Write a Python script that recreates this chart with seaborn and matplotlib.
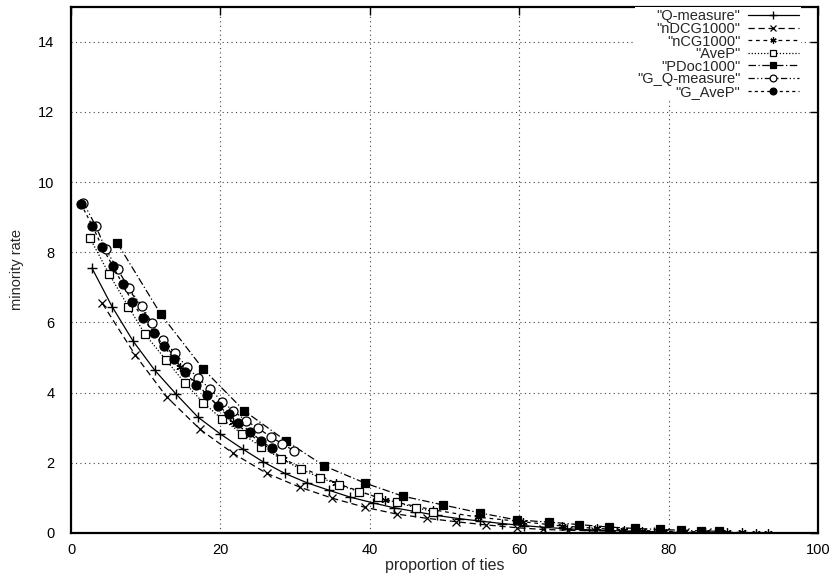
import matplotlib
matplotlib.use("Agg")
import matplotlib.pyplot as plt
import seaborn as sns

# ---- data ----
q_x = [2.8, 5.5, 8.3, 11.2, 14.1, 17.0, 20.0, 23.0, 25.7, 28.6, 31.6, 34.5, 37.4, 40.4, 43.2, 46.1,
       49.0, 51.9, 54.8, 57.7, 60.6, 63.5, 66.4, 69.3, 72.2, 75.1, 78.0]
q_y = [7.55, 6.45, 5.47, 4.64, 3.95, 3.30, 2.82, 2.39, 2.03, 1.70, 1.43, 1.22, 1.02, 0.86, 0.72, 0.61,
       0.50, 0.41, 0.34, 0.27, 0.21, 0.16, 0.12, 0.09, 0.07, 0.05, 0.04]

ndcg_x = [4.2, 8.6, 12.8, 17.3, 21.7, 26.2, 30.7, 35.0, 39.4, 43.6, 47.6, 51.6, 55.6, 59.7, 63.2,
          66.5, 70.1, 73.5, 76.4, 79.5, 82.2, 85.1]
ndcg_y = [6.54, 5.07, 3.88, 2.95, 2.27, 1.70, 1.30, 0.99, 0.73, 0.54, 0.42, 0.32, 0.23, 0.15, 0.10,
          0.08, 0.06, 0.05, 0.04, 0.03, 0.02, 0.02]

ncg_x = [7.6, 14.6, 21.7, 28.4, 35.5, 42.0, 48.5, 54.5, 60.5, 65.7, 70.4, 74.0, 76.5, 79.3, 81.7,
         84.9, 87.8, 89.8, 91.7, 93.3]
ncg_y = [7.0, 4.74, 3.17, 2.11, 1.42, 0.94, 0.66, 0.45, 0.32, 0.20, 0.13, 0.09, 0.07, 0.05, 0.04,
         0.03, 0.02, 0.02, 0.01, 0.01]

avep_x = [2.54, 5.09, 7.67, 9.91, 12.72, 15.26, 17.71, 20.25, 22.89, 25.5, 28.1, 30.8, 33.3, 35.9,
          38.5, 41.1, 43.6, 46.2, 48.5]
avep_y = [8.40, 7.38, 6.45, 5.66, 4.93, 4.27, 3.71, 3.24, 2.83, 2.45, 2.12, 1.82, 1.58, 1.37,
          1.18, 1.02, 0.87, 0.72, 0.61]

pdoc_x = [6.2, 12.0, 17.7, 23.2, 28.8, 33.9, 39.4, 44.4, 49.8, 54.8, 59.7, 64.0, 68.0, 72.0, 75.5,
          78.8, 81.6, 84.3, 86.7]
pdoc_y = [8.26, 6.24, 4.67, 3.48, 2.62, 1.91, 1.42, 1.05, 0.80, 0.57, 0.37, 0.31, 0.24, 0.17, 0.13,
          0.10, 0.08, 0.06, 0.05]

gq_x = [1.65, 3.31, 4.65, 6.25, 7.76, 9.46, 10.87, 12.36, 13.92, 15.49, 17.04, 18.67, 20.25, 21.73,
        23.43, 25.08, 26.73, 28.28, 29.89]
gq_y = [9.41, 8.75, 8.08, 7.51, 6.97, 6.47, 5.97, 5.50, 5.12, 4.74, 4.41, 4.09, 3.74, 3.48,
        3.20, 2.98, 2.74, 2.54, 2.34]

gavep_x = [1.34, 2.86, 4.2, 5.58, 6.92, 8.2, 9.6, 11.1, 12.4, 13.8, 15.3, 16.7, 18.2, 19.7, 21.1,
           22.4, 24.0, 25.4, 26.9]
gavep_y = [9.37, 8.75, 8.14, 7.61, 7.09, 6.59, 6.12, 5.71, 5.33, 4.95, 4.60, 4.22, 3.93, 3.62, 3.39,
           3.14, 2.89, 2.63, 2.41]

x_ticks = [0, 20, 40, 60, 80, 100]
y_ticks = [0, 2, 4, 6, 8, 10, 12, 14]

# ---- style ----
sns.set_style("white")
plt.rcParams["font.family"] = ["Liberation Sans", "DejaVu Sans"]
FS = 10.5

fig = plt.figure(figsize=(8.34, 5.79), dpi=100)
ax = fig.add_axes([71 / 834, 1 - 533 / 579, (818 - 71) / 834, (533 - 6.5) / 579])

series = [
    ('"Q-measure"', q_x, q_y, dict(marker="+", ms=7, mew=1.0, mfc="black", linestyle="-")),
    ('"nDCG1000"', ndcg_x, ndcg_y, dict(marker="x", ms=5.5, mew=0.9, mfc="black", linestyle=(0, (5, 3)))),
    ('"nCG1000"', ncg_x, ncg_y, dict(marker=(6, 2, 0), ms=6, mew=0.9, mfc="black", linestyle=(0, (3, 3)))),
    ('"AveP"', avep_x, avep_y, dict(marker="s", ms=6, mew=0.9, mfc="white", linestyle=(0, (1, 1.5)))),
    ('"PDoc1000"', pdoc_x, pdoc_y, dict(marker="s", ms=6, mew=0.9, mfc="black", linestyle=(0, (6, 2, 1, 2)))),
    ('"G_Q-measure"', gq_x, gq_y, dict(marker="o", ms=6.5, mew=0.9, mfc="white", linestyle=(0, (5, 2, 1, 2, 1, 2)))),
    ('"G_AveP"', gavep_x, gavep_y, dict(marker="o", ms=6.5, mew=0.9, mfc="black", linestyle=(0, (2.5, 2.5)))),
]

for i, (label, xs, ys, kw) in enumerate(series):
    sns.lineplot(x=xs, y=ys, ax=ax, color="black", lw=0.9, label=label, sort=False,
                 estimator=None, mec="black", zorder=3 + i, **kw)

ax.set_xlim(0, 100)
ax.set_ylim(0, 15)
ax.set_xticks(x_ticks)
ax.set_yticks(y_ticks)
ax.grid(True, color="#444444", linestyle=(0, (1, 3)), linewidth=0.8)
ax.set_axisbelow(True)
for s in ax.spines.values():
    s.set_color("black")
    s.set_linewidth(1.6)
ax.tick_params(axis="both", direction="in", length=6, width=1, top=True, right=True,
               labelsize=FS, colors="black")
ax.tick_params(axis="x", pad=7)
ax.tick_params(axis="y", pad=12)
ax.set_xlabel("proportion of ties", fontsize=11.5, labelpad=1)
ax.set_ylabel("minority rate", fontsize=FS, labelpad=10)

leg = ax.legend(loc="upper right", bbox_to_anchor=(0.978, 1.0), markerfirst=False, frameon=True,
                fancybox=False, framealpha=1.0, edgecolor="none", facecolor="white",
                fontsize=10.5, handlelength=3.5, handletextpad=0.5, labelspacing=-0.1,
                borderpad=0.15, borderaxespad=0.05, markerscale=0.75)
leg.set_zorder(20)

fig.savefig("out.png", dpi=100)
